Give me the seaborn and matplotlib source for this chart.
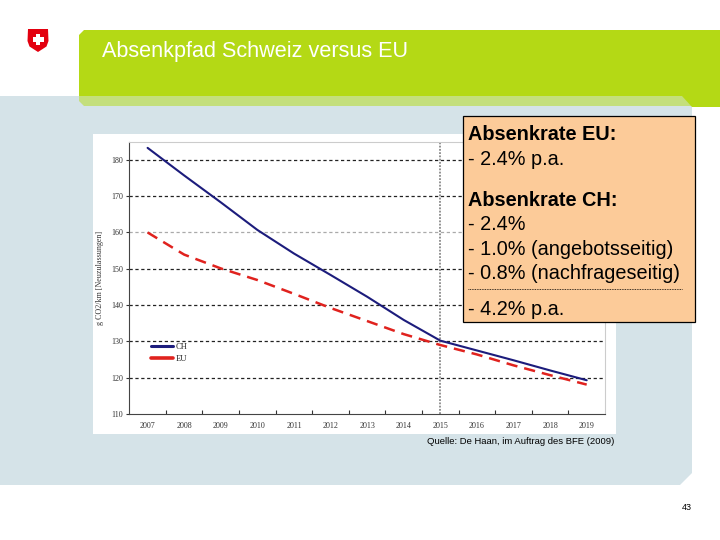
import matplotlib
matplotlib.use("Agg")
import matplotlib.pyplot as plt
from matplotlib.patches import Polygon, Rectangle
from matplotlib.lines import Line2D
import seaborn as sns
import pandas as pd

# ---------------- data ----------------
years = [2007, 2008, 2009, 2010, 2011, 2012, 2013, 2014, 2015, 2016, 2017, 2018, 2019]
ch_values = [183.3, 175.7, 168.3, 160.7, 154.2, 148.3, 142.3, 135.9, 130.2, 127.5, 124.8, 122.0, 119.3]
eu_values = [160.0, 153.9, 150.1, 146.9, 143.1, 139.2, 135.6, 132.0, 129.0, 126.4, 123.4, 120.7, 118.1]
series_names = ["CH", "EU"]
y_ticks = [110, 120, 130, 140, 150, 160, 170, 180]
grid_levels = [120, 130, 140, 150, 160, 170, 180]
marker_year = 2015

title_text = "Absenkpfad Schweiz versus EU"
y_label = "g CO2/km [Neuzulassungen]"
source_text = "Quelle: De Haan, im Auftrag des BFE (2009)"
page_number = "43"
box_lines = ["Absenkrate EU:", "- 2.4% p.a.", "Absenkrate CH:", "- 2.4%",
             "- 1.0% (angebotsseitig)", "- 0.8% (nachfrageseitig)", "- 4.2% p.a."]
box_bold = [True, False, True, False, False, False, False]

# ---------------- style ----------------
sns.set_theme(style="white")
plt.rcParams["font.family"] = ["Liberation Sans", "DejaVu Sans"]

W, H = 720, 540
fig = plt.figure(figsize=(7.2, 5.4), dpi=100)
fig.patch.set_facecolor("white")

def fx(x):
    return x / W

def fy(y):
    return 1 - y / H

def poly(pts, **kw):
    p = Polygon([(fx(a), fy(b)) for a, b in pts], closed=True,
                transform=fig.transFigure, **kw)
    fig.add_artist(p)
    return p

def rect(x0, y0, x1, y1, **kw):
    r = Rectangle((fx(x0), fy(y1)), fx(x1) - fx(x0), fy(y0) - fy(y1),
                  transform=fig.transFigure, **kw)
    fig.add_artist(r)
    return r

# slide background shapes
poly([(0, 96), (692, 96), (692, 473), (680, 485), (0, 485)],
     facecolor="#d5e3e8", edgecolor="none", zorder=-5)
poly([(79, 96), (683, 96), (692, 106), (84, 106), (79, 101)],
     facecolor="#c4df7c", edgecolor="none", zorder=-4)
poly([(84, 30), (720, 30), (720, 107), (692, 107), (682, 96), (79, 96), (79, 35)],
     facecolor="#b4d915", edgecolor="none", zorder=-4)
rect(93, 134, 616, 434, facecolor="white", edgecolor="none", zorder=-3)

# Swiss shield logo
poly([(28, 29), (48, 29), (48.5, 41), (46.5, 46.5), (38, 52), (29.5, 46.5), (27.5, 41)],
     facecolor="#e3000f", edgecolor="none", zorder=-2)
rect(32.5, 37.3, 43.5, 41.9, facecolor="white", edgecolor="none", zorder=-1)
rect(35.7, 34, 40.3, 45.3, facecolor="white", edgecolor="none", zorder=-1)

fig.text(fx(102), fy(57), title_text, color="white", fontsize=15.6,
         ha="left", va="baseline")

# ---------------- chart ----------------
ax = fig.add_axes([fx(129.3), fy(414), fx(605) - fx(129.3), fy(141.7) - fy(414)])
ax.set_facecolor("white")

df = pd.DataFrame({
    "Jahr": years + years,
    "Wert": ch_values + eu_values,
    "Serie": [series_names[0]] * len(years) + [series_names[1]] * len(years),
})

for lvl in grid_levels:
    ax.axhline(lvl, color="#aaaaaa" if lvl == 160 else "#222222", lw=0.9,
               linestyle=(0, (2.6, 2.1)), zorder=1)
ax.axvline(marker_year, color="#8a8a8a", lw=1.3, linestyle=(0, (1, 0.8)), zorder=1)

sns.lineplot(data=df[df["Serie"] == "CH"], x="Jahr", y="Wert", color="#1c1c7c",
             linewidth=1.5, ax=ax, label="CH", zorder=3)
sns.lineplot(data=df[df["Serie"] == "EU"], x="Jahr", y="Wert", color="#e0221e",
             linewidth=1.8, linestyle=(0, (4.5, 2.8)), ax=ax, label="EU", zorder=3)

ax.set_xlim(2006.5, 2019.5)
ax.set_ylim(110, 185)
ax.set_xticks(years)
ax.set_xticklabels([str(y) for y in years])
ax.set_xticks([y + 0.5 for y in years[:-1]], minor=True)
ax.set_yticks(y_ticks)
ax.set_yticklabels([str(v) for v in y_ticks])
ax.set_xlabel("")
ax.set_ylabel(y_label, fontsize=5.8, family=["Liberation Serif", "DejaVu Serif"],
              color="#333333", labelpad=5)

for lab in ax.get_xticklabels() + ax.get_yticklabels():
    lab.set_family(["Liberation Serif", "DejaVu Serif"])
    lab.set_fontsize(5.8)
    lab.set_color("#333333")

ax.tick_params(axis="x", which="major", length=0, pad=6)
ax.tick_params(axis="x", which="minor", direction="in", length=3, width=0.8,
               color="#333333", bottom=True)
ax.tick_params(axis="y", which="major", direction="out", length=2.5, width=0.8,
               color="#333333", left=True, pad=2)

for side in ["left", "bottom"]:
    ax.spines[side].set_color("#444444")
    ax.spines[side].set_linewidth(0.8)
for side in ["top", "right"]:
    ax.spines[side].set_color("#cccccc")
    ax.spines[side].set_linewidth(0.8)

leg_handles = [Line2D([], [], color="#1c1c7c", lw=2.2),
               Line2D([], [], color="#e0221e", lw=2.6)]
ax.legend(leg_handles, series_names, loc="upper left", bbox_to_anchor=(0.045, 0.262),
          frameon=False, borderpad=0, borderaxespad=0, handlelength=2.6,
          handletextpad=0.3, labelspacing=0.5,
          prop={"family": ["Liberation Serif", "DejaVu Serif"], "size": 6.2})

# ---------------- annotation box ----------------
rect(463.3, 116, 694.5, 322, facecolor="#fccb99", edgecolor="black", lw=0.9, zorder=5)
baselines = [139.9, 165.4, 205.5, 229.6, 254.8, 278.6, 315.3]
for txt, bold, yb in zip(box_lines, box_bold, baselines):
    fig.text(fx(468), fy(yb), txt, fontsize=14.3, ha="left", va="baseline",
             fontweight="bold" if bold else "normal", color="black", zorder=6)
fig.add_artist(Line2D([fx(468), fx(682)], [fy(289), fy(289)], color="black",
                      lw=0.6, linestyle=(0, (1, 1)), transform=fig.transFigure, zorder=6))

fig.text(fx(614), fy(441), source_text, fontsize=6.8, ha="right", va="center", color="black")
fig.text(fx(687), fy(507), page_number, fontsize=6.5, ha="center", va="center", color="black")

fig.savefig("out.png", dpi=100, facecolor="white")
